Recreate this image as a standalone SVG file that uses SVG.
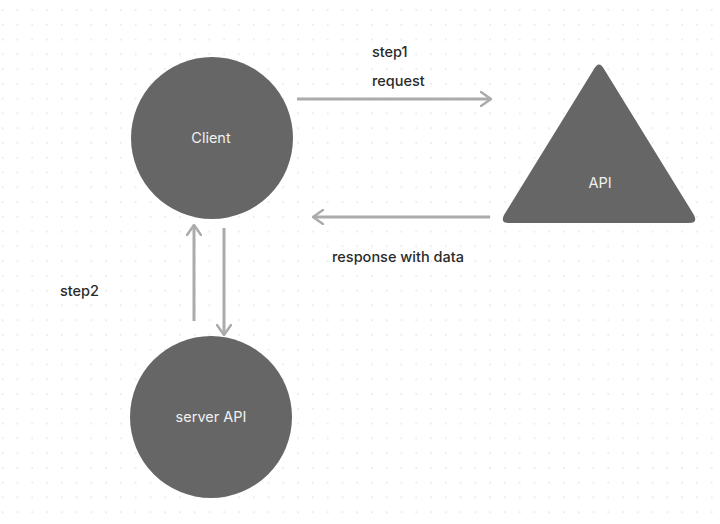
<svg xmlns="http://www.w3.org/2000/svg" width="720" height="524" viewBox="0 0 720 524">
<defs>
<pattern id="dots" x="2.7" y="10" width="14.77" height="14.77" patternUnits="userSpaceOnUse">
<circle cx="0" cy="0" r="0.8" fill="#d8d8d8"/>
<circle cx="14.77" cy="0" r="0.8" fill="#d8d8d8"/>
<circle cx="0" cy="14.77" r="0.8" fill="#d8d8d8"/>
<circle cx="14.77" cy="14.77" r="0.8" fill="#d8d8d8"/>
</pattern>
<marker id="arr" viewBox="0 0 12 16" refX="11" refY="8" markerWidth="12" markerHeight="16" markerUnits="userSpaceOnUse" orient="auto">
<path d="M1,1 L11,8 L1,15" fill="none" stroke="#ababab" stroke-width="2.5" stroke-linecap="round" stroke-linejoin="round"/>
</marker>
</defs>
<style>
.node{fill:#666666}
.nl{font-family:Inter,"Liberation Sans",sans-serif;font-size:14.5px;fill:#f0f0f0;text-anchor:middle}
.lbl{font-family:Inter,"Liberation Sans",sans-serif;font-size:14.5px;font-weight:500;fill:#2a2a2a}
.edge{stroke:#ababab;stroke-width:3;fill:none;marker-end:url(#arr)}
</style>
<rect width="720" height="524" fill="#ffffff"/>
<rect width="720" height="524" fill="url(#dots)"/>
<g id="connectors">
<line class="edge" x1="297" y1="99" x2="491" y2="99"/>
<line class="edge" x1="490" y1="217" x2="313" y2="217"/>
<line class="edge" x1="194" y1="321" x2="194" y2="225"/>
<line class="edge" x1="224" y1="228" x2="224" y2="335"/>
</g>
<g id="client">
<circle class="node" cx="212" cy="138" r="81"/>
<text class="nl" x="211" y="143">Client</text>
</g>
<g id="api">
<path class="node" d="M594,69 Q599,60 604,69 L694,215 Q698,223 689,223 L509,223 Q500,223 504,215 Z"/>
<text class="nl" x="600" y="188">API</text>
</g>
<g id="server-api">
<circle class="node" cx="211" cy="417" r="81"/>
<text class="nl" x="211" y="422">server API</text>
</g>
<g id="labels">
<text class="lbl" x="372" y="57">step1</text>
<text class="lbl" x="372" y="86">request</text>
<text class="lbl" x="332" y="262">response with data</text>
<text class="lbl" x="60" y="296">step2</text>
</g>
</svg>
